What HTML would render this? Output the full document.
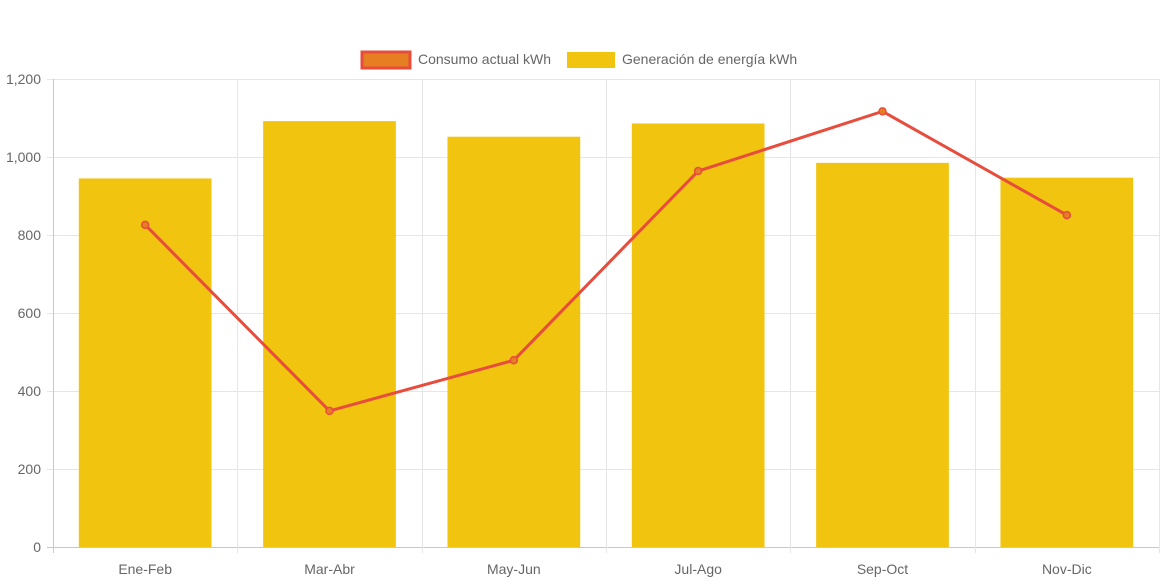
<!DOCTYPE html>
<html><head><meta charset="utf-8"><style>
html,body{margin:0;padding:0;background:#fff;}
svg{display:block;font-family:"Liberation Sans",Arial,sans-serif;}
</style></head><body>
<svg id="chart" width="1165" height="582">
<g id="legend">
  <g>
    <rect x="362" y="52" width="48" height="16" fill="#e67e22" stroke="#e74c3c" stroke-width="3"></rect>
    <text x="418" y="64" font-size="14" fill="#666">Consumo actual kWh</text>
  </g>
  <g>
    <rect x="567" y="52" width="48" height="16" fill="#f1c40f"></rect>
    <text x="622" y="64" font-size="14" fill="#666">Generación de energía kWh</text>
  </g>
</g>
<g id="grid"></g>
<g id="bars"></g>
<g id="line"></g>
<g id="axes"></g>
</svg>
<script>
const categories = ["Ene-Feb","Mar-Abr","May-Jun","Jul-Ago","Sep-Oct","Nov-Dic"];
const generacion = [945, 1092, 1052, 1086, 985, 947];
const consumo = [826, 349, 479, 964, 1117, 851];
const yTicks = [0, 200, 400, 600, 800, 1000, 1200];
const yTickLabels = ["0","200","400","600","800","1,000","1,200"];

const NS = "http://www.w3.org/2000/svg";
const L = 53, R = 1159, T = 79, B = 547, yMax = 1200;
const band = (R - L) / categories.length;
const x = i => L + band * (i + 0.5);
const y = v => B - (v / yMax) * (B - T);
function mk(tag, attrs, parent) {
  const e = document.createElementNS(NS, tag);
  for (const k in attrs) e.setAttribute(k, attrs[k]);
  parent.appendChild(e);
  return e;
}
const grid = document.getElementById("grid");
const axes = document.getElementById("axes");
yTicks.forEach((t, i) => {
  const ln = mk("line", {x1: L - 6, x2: R, y1: y(t) + 0.5, y2: y(t) + 0.5, stroke: i === 0 ? "#c8c8c8" : "#e6e6e6", "stroke-width": 1}, grid);
  
  
  const tx = mk("text", {x: L - 12, y: y(t) + 5, "text-anchor": "end", "font-size": 14, fill: "#666"}, axes);
  tx.textContent = yTickLabels[i];
  
  
});
for (let i = 0; i <= categories.length; i++) {
  const xx = Math.round(L + band * i) + 0.5;
  const ln = mk("line", {x1: xx, x2: xx, y1: T, y2: B + 6, stroke: i === 0 ? "#c8c8c8" : "#e6e6e6", "stroke-width": 1}, grid);
  
  
}
const bars = document.getElementById("bars");
const bw = band * 0.72;
categories.forEach((c, i) => {
  const r = mk("rect", {x: x(i) - bw / 2, y: y(generacion[i]), width: bw, height: B - y(generacion[i]), fill: "#f1c40f"}, bars);
  
  
  const tx = mk("text", {x: x(i), y: 574, "text-anchor": "middle", "font-size": 14, fill: "#666"}, axes);
  tx.textContent = c;
  
  
});
const line = document.getElementById("line");
const pl = mk("polyline", {points: consumo.map((v, i) => x(i) + "," + y(v)).join(" "), fill: "none", stroke: "#e74c3c", "stroke-width": 3, "stroke-linejoin": "round"}, line);


consumo.forEach((v, i) => {
  const c = mk("circle", {cx: x(i), cy: y(v), r: 3.5, fill: "#e67e22", stroke: "#e74c3c", "stroke-width": 1.5}, line);
  
  
});
</script>
</body></html>
